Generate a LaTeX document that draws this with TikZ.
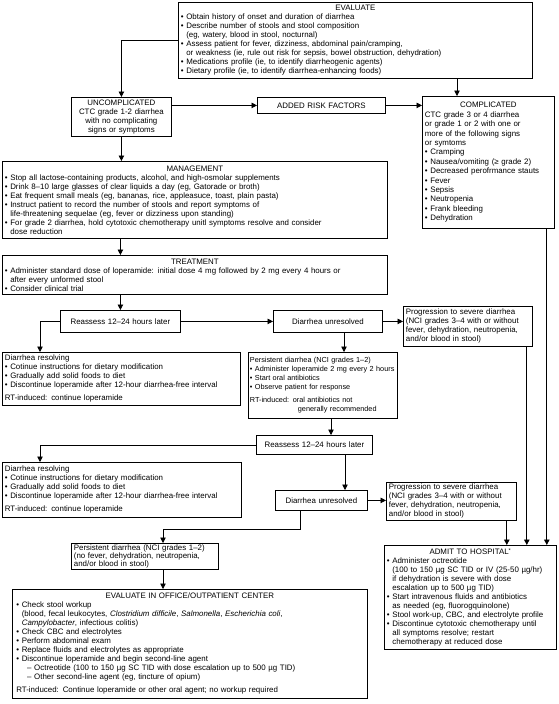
\documentclass[tikz,border=0pt]{standalone}
\usepackage{fontspec}
\setmainfont{Liberation Sans}
\usetikzlibrary{arrows.meta}
\newcommand{\hd}[1]{\makebox[\hsize][c]{#1}}
\newcommand{\bu}{\textbullet\ }
\newcommand{\ind}{\hphantom{\textbullet\ }}
\tikzset{
  box/.style={draw, line width=0.8pt, anchor=north west, inner xsep=2.5pt, inner ysep=1pt, align=left, font=\fontsize{7.9}{9}\selectfont},
  arr/.style={line width=0.8pt, -{Triangle[length=5.5pt,width=5.5pt]}}
}
\begin{document}
\begin{tikzpicture}[x=1pt,y=-1pt]
\path[use as bounding box, fill=white] (0,0) rectangle (558,704);
\node[box, text width=349pt, minimum height=76pt] (eval) at (178,2) {\hd{EVALUATE}\\
\bu Obtain history of onset and duration of diarrhea\\
\bu Describe number of stools and stool composition\\
\ind(eg, watery, blood in stool, nocturnal)\\
\bu Assess patient for fever, dizziness, abdominal pain/cramping,\\
\ind{}or weakness (ie, rule out risk for sepsis, bowel obstruction, dehydration)\\
\bu Medications profile (ie, to identify diarrheogenic agents)\\
\bu Dietary profile (ie, to identify diarrhea-enhancing foods)};
\node[box, align=center, text width=95pt, minimum height=39pt] (unc) at (71,97) {UNCOMPLICATED\\CTC grade 1-2 diarrhea\\with no complicating\\signs or symptoms};
\node[box, align=center, text width=123pt, minimum height=16pt] (risk) at (257,97) {ADDED RISK FACTORS};
\node[box, text width=127pt, minimum height=132pt, font=\fontsize{7.9}{9.4}\selectfont] (comp) at (422,96) {\hd{COMPLICATED}\\
CTC grade 3 or 4 diarrhea\\or grade 1 or 2 with one or\\more of the following signs\\or symtoms\\
\bu Cramping\\\bu Nausea/vomiting (≥ grade 2)\\\bu Decreased perofrmance stauts\\\bu Fever\\\bu Sepsis\\\bu Neutropenia\\\bu Frank bleeding\\\bu Dehydration};
\node[box, text width=380pt, minimum height=77pt] (mgmt) at (2,161) {\hd{MANAGEMENT}\\
\bu Stop all lactose-containing products, alcohol, and high-osmolar supplements\\
\bu Drink 8–10 large glasses of clear liquids a day (eg, Gatorade or broth)\\
\bu Eat frequent small meals (eg, bananas, rice, appleasuce, toast, plain pasta)\\
\bu Instruct patient to record the number of stools and report symptoms of\\
\ind{}life-threatening sequelae (eg, fever or dizziness upon standing)\\
\bu For grade 2 diarrhea, hold cytotoxic chemotherapy unitl symptoms resolve and consider\\
\ind{}dose reduction};
\node[box, text width=380pt, minimum height=39pt] (treat) at (2,255) {\hd{TREATMENT}\\
\bu Administer standard dose of loperamide: initial dose 4 mg followed by 2 mg every 4 hours or\\
\ind{}after every unformed stool\\
\bu Consider clinical trial};
\node[box, align=center, text width=115pt, minimum height=22pt] (rea1) at (60,310) {Reassess 12–24 hours later};
\node[box, align=center, text width=104pt, minimum height=22pt] (unr1) at (273,310) {Diarrhea unresolved};
\node[box, text width=124pt, minimum height=40pt] (prog1) at (403,306) {Progression to severe diarrhea\\(NCI grades 3–4 with or without\\fever, dehydration, neutropenia,\\and/or blood in stool)};
\node[box, text width=233pt, minimum height=53pt] (res1) at (2,352) {Diarrhea resolving\\
\bu Cotinue instructions for dietary modification\\
\bu Gradually add solid foods to diet\\
\bu Discontinue loperamide after 12-hour diarrhea-free interval\\[4pt]
RT-induced: continue loperamide};
\node[box, inner xsep=1.5pt, text width=146pt, minimum height=66pt, font=\fontsize{7.3}{9}\selectfont] (per1) at (248,352) {Persistent diarrhea (NCI grades 1–2)\\
\bu Administer loperamide 2 mg every 2 hours\\
\bu Start oral antibiotics\\
\bu Observe patient for response\\[4pt]
RT-induced: oral antibiotics not\\
\hspace*{48pt}generally recommended};
\node[box, align=center, text width=111pt, minimum height=19pt] (rea2) at (256,435) {Reassess 12–24 hours later};
\node[box, text width=234pt, minimum height=55pt] (res2) at (2,462) {Diarrhea resolving\\
\bu Cotinue instructions for dietary modification\\
\bu Gradually add solid foods to diet\\
\bu Discontinue loperamide after 12-hour diarrhea-free interval\\[4pt]
RT-induced: continue loperamide};
\node[box, align=center, text width=87pt, minimum height=20pt] (unr2) at (275,490) {Diarrhea unresolved};
\node[box, text width=125pt, minimum height=38pt] (prog2) at (386,482) {Progression to severe diarrhea\\(NCI grades 3–4 with or without\\fever, dehydration, neutropenia,\\and/or blood in stool)};
\node[box, text width=142pt, minimum height=24pt, font=\fontsize{7.9}{8.2}\selectfont] (per2) at (71,543) {Persistent diarrhea (NCI grades 1–2)\\(no fever, dehydration, neutropenia,\\and/or blood in stool)};
\node[box, text width=167pt, minimum height=104pt] (adm) at (384,545) {\hd{ADMIT TO HOSPITAL\textsuperscript{*}}\\
\bu Administer octreotide\\
\ind(100 to 150 µg SC TID or IV (25-50 µg/hr)\\
\ind{}if dehydration is severe with dose\\
\ind{}escalation up to 500 µg TID)\\
\bu Start intravenous fluids and antibiotics\\
\ind{}as needed (eg, fluorogquinolone)\\
\bu Stool work-up, CBC, and electrolyte profile\\
\bu Discontinue cytotoxic chemotherapy until\\
\ind{}all symptoms resolve; restart\\
\ind{}chemotherapy at reduced dose};
\node[box, inner xsep=4pt, text width=347pt, minimum height=109pt] (off) at (12,589) {\hd{EVALUATE IN OFFICE/OUTPATIENT CENTER}\\
\bu Check stool workup\\
\ind(blood, fecal leukocytes, \textit{Clostridium difficile}, \textit{Salmonella}, \textit{Escherichia coli},\\
\ind\textit{Campylobacter}, infectious colitis)\\
\bu Check CBC and electrolytes\\
\bu Perform abdominal exam\\
\bu Replace fluids and electrolytes as appropriate\\
\bu Discontinue loperamide and begin second-line agent\\
\ind\ind– Octreotide (100 to 150 µg SC TID with dose escalation up to 500 µg TID)\\
\ind\ind– Other second-line agent (eg, tincture of opium)\\[4pt]
RT-induced: Continue loperamide or other oral agent; no workup required};
\path ([xshift=35pt]comp.north west) coordinate (ec)
  ([xshift=-10pt]prog2.south east) coordinate (p2o)
  ([xshift=-6pt]prog1.south east) coordinate (p1o)
  ([xshift=-8pt]comp.south east) coordinate (cpo)
  ([xshift=38pt]res1.north west) coordinate (r1i)
  ([xshift=38pt]res2.north west) coordinate (r2i)
  ([xshift=71pt]unr1.south west) coordinate (u1o)
  ([xshift=75pt]rea2.north west) coordinate (ra2i)
  ([xshift=89pt]rea2.south west) coordinate (ra2o)
  ([xshift=25pt]unr2.south west) coordinate (u2o)
  ([xshift=92pt]per2.south west) coordinate (pc);
\draw[arr] (eval.west) -| (unc.north);
\draw[arr] (ec |- eval.south) -- (ec);
\draw[arr] (unc.east |- risk.west) -- (risk.west);
\draw[arr] (risk.east) -- (risk.east -| comp.west);
\draw[arr] (unc.south) -- (unc.south |- mgmt.north);
\draw[arr] (mgmt.south -| rea1.north) -- (treat.north -| rea1.north);
\draw[arr] (treat.south -| rea1.north) -- (rea1.north);
\draw[arr] (rea1.west) -| (r1i);
\draw[arr] (rea1.east) -- (unr1.west);
\draw[arr] (unr1.east) -- (unr1.east -| prog1.west);
\draw[arr] (u1o) -- (u1o |- per1.north);
\draw[arr] (ra2i |- per1.south) -- (ra2i);
\draw[arr] (rea2.west) -| (r2i);
\draw[arr] (ra2o) -- (ra2o |- unr2.north);
\draw[arr] (unr2.east) -- (unr2.east -| prog2.west);
\draw[arr] (u2o) -- ([yshift=-19pt]u2o) -| (pc |- per2.north);
\draw[arr] (pc) -- (pc |- off.north);
\draw[arr] (p2o) -- (p2o |- adm.north);
\draw[arr] (p1o) -- (p1o |- adm.north);
\draw[arr] (cpo) -- (cpo |- adm.north);
\end{tikzpicture}
\end{document}
